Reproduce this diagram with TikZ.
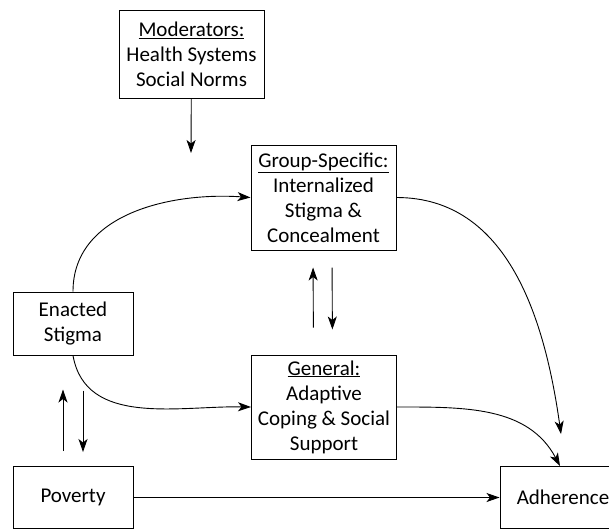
\documentclass[tikz,border=0pt]{standalone}
\usepackage{fontspec}
\setmainfont{Carlito}
\usepackage{tikz}
\usetikzlibrary{arrows.meta}

\begin{document}
\begin{tikzpicture}[x=1pt,y=-1pt,
  box/.style={draw,line width=1pt,align=center,inner sep=0pt,
    font=\fontsize{21}{25}\selectfont},
  link/.style={line width=0.9pt,-{Stealth[length=13pt,width=9pt,inset=3.5pt]}}]
\useasboundingbox (0,0) rectangle (609,530);
% boxes
\node[box,minimum width=145pt,minimum height=88pt] (moderators) at (191.5,54) {\underline{Moderators:}\\Health Systems\\Social Norms};
\node[box,minimum width=145pt,minimum height=105pt] (groupspec) at (323.5,197.5) {\underline{Group-Specific:}\\Internalized\\Stigma \&\\Concealment};
\node[box,minimum width=145pt,minimum height=104pt] (general) at (324,407) {\underline{General:}\\Adaptive\\Coping \& Social\\Support};
\node[box,minimum width=120pt,minimum height=63pt] (enacted) at (73,323.5) {Enacted\\Stigma};
\node[box,minimum width=120pt,minimum height=62pt] (poverty) at (73,497.5) {Poverty};
\node[box,minimum width=126pt,minimum height=62pt] (adherence) at (563,497.5) {Adherence};
\coordinate (modend) at (191,153);
\coordinate (adhend) at (561,434);
% arrows
\draw[link] (moderators) -- (modend);
\draw[link] (enacted.north) to[out=90,in=176] (groupspec.west);
\draw[link] (enacted.south) to[out=-80,in=179] (general.west);
\draw[link] (groupspec.east) to[out=0,in=98] (adhend);
\draw[link] (general.east) to[out=0,in=118] ([xshift=-3pt]adherence.north);
\draw[link] (poverty) -- (adherence);
\draw[link,shorten <=15pt,shorten >=34pt] ([xshift=-10pt]poverty.north) -- ([xshift=-10pt]enacted.south);
\draw[link,shorten <=35pt,shorten >=14pt] ([xshift=10pt]enacted.south) -- ([xshift=10pt]poverty.north);
\draw[link,shorten <=27pt,shorten >=17pt] ([xshift=-10.5pt]general.north) -- ([xshift=-10.5pt]groupspec.south);
\draw[link,shorten <=17pt,shorten >=25pt] ([xshift=8.5pt]groupspec.south) -- ([xshift=8.5pt]general.north);
\end{tikzpicture}
\end{document}
